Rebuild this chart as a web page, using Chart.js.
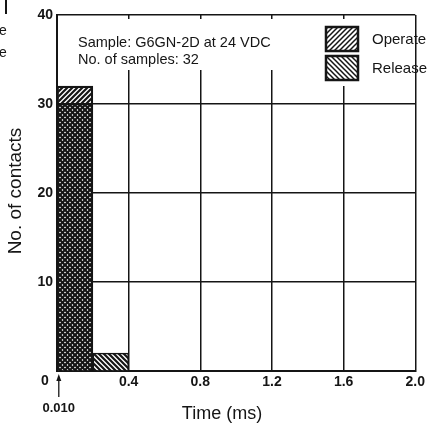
<!DOCTYPE html>
<html>
<head>
<meta charset="utf-8">
<script src="https://cdn.jsdelivr.net/npm/chart.js@4"></script>
<style>
  html, body { margin: 0; padding: 0; background: #fff; }
  #wrap { width: 428px; height: 429px; position: relative; }
</style>
</head>
<body>
<div id="wrap"><canvas id="chart" width="428" height="429"></canvas></div>
<script>
// histogram data (bins 0.2 ms wide)
const binCenters = [0.1, 0.3];
const operateCounts = [32, null];
const releaseCounts = [30, 2];
const xTicks = [0, 0.4, 0.8, 1.2, 1.6, 2.0];
const yTicks = [0, 10, 20, 30, 40];
const sampleLines = ['Sample: G6GN-2D at 24 VDC', 'No. of samples: 32'];
const legendLabels = ['Operate', 'Release'];
const firstBinStart = 0.010;

const INK = '#151515';
const tickFamily = '"Liberation Sans Narrow", "Liberation Sans", Arial, sans-serif';
const tickFont = 'bold 14px ' + tickFamily;
const textFont = '"Liberation Sans", Arial, sans-serif';

// hatch patterns: "/" for operate, "\" for release
function makeHatch(dir, fill, lw, s) {
    const c = document.createElement('canvas');
    c.width = s; c.height = s;
    const g = c.getContext('2d');
    if (fill) { g.fillStyle = fill; g.fillRect(0, 0, s, s); }
    g.strokeStyle = INK;
    g.lineWidth = lw;
    g.beginPath();
    if (dir === '/') {
        g.moveTo(-1, s + 1); g.lineTo(s + 1, -1);
        g.moveTo(-1, 1); g.lineTo(1, -1);
        g.moveTo(s - 1, s + 1); g.lineTo(s + 1, s - 1);
    } else {
        g.moveTo(-1, -1); g.lineTo(s + 1, s + 1);
        g.moveTo(-1, s - 1); g.lineTo(1, s + 1);
        g.moveTo(s - 1, -1); g.lineTo(s + 1, 1);
    }
    g.stroke();
    return document.getElementById('chart').getContext('2d').createPattern(c, 'repeat');
}

const operateFill = makeHatch('/', null, 2.2, 5);
const releaseFill = makeHatch('\\', '#ffffff', 2.2, 5);
const operateBox = makeHatch('/', '#ffffff', 1.5, 5);
const releaseBox = makeHatch('\\', '#ffffff', 1.5, 5);

// extra drawing: notes, legend, axis titles, the 0.010 marker
const extras = {
    id: 'extras',
    afterDraw(chart) {
        const ctx = chart.ctx;
        const xs = chart.scales.x, ys = chart.scales.y;
        const x0 = xs.getPixelForValue(0), y0 = ys.getPixelForValue(0);
        ctx.save();
        ctx.fillStyle = INK;
        ctx.strokeStyle = INK;

        // shared origin "0"
        ctx.font = tickFont;
        ctx.textAlign = 'center';
        ctx.textBaseline = 'middle';
        ctx.fillText('0', x0 - 12, y0 + 10);

        // 0.010 arrow
        const xm = xs.getPixelForValue(firstBinStart);
        ctx.lineWidth = 1.3;
        ctx.beginPath();
        ctx.moveTo(xm, y0 + 26);
        ctx.lineTo(xm, y0 + 6);
        ctx.stroke();
        ctx.beginPath();
        ctx.moveTo(xm, y0 + 3);
        ctx.lineTo(xm - 2.5, y0 + 10);
        ctx.lineTo(xm + 2.5, y0 + 10);
        ctx.closePath();
        ctx.fill();
        ctx.font = 'bold 13px ' + tickFamily;
        ctx.fillText('0.010', xm, y0 + 37);

        // axis titles
        ctx.font = '18px ' + textFont;
        ctx.fillText('Time (ms)', 222, 414);
        ctx.save();
        ctx.translate(16, 191);
        ctx.rotate(-Math.PI / 2);
        ctx.font = '19px ' + textFont;
        ctx.fillText('No. of contacts', 0, 0);
        ctx.restore();

        // sample note
        ctx.fillStyle = '#fff';
        ctx.fillRect(61, 19, 240, 51);
        ctx.fillStyle = INK;
        ctx.font = '14.5px ' + textFont;
        ctx.textAlign = 'left';
        sampleLines.forEach((t, i) => ctx.fillText(t, 78, 43 + i * 17));

        // legend
        ctx.fillStyle = '#fff';
        ctx.fillRect(318, 19, 94, 67);
        const boxes = [operateBox, releaseBox];
        legendLabels.forEach((t, i) => {
            const by = 27 + i * 29;
            ctx.fillStyle = boxes[i];
            ctx.fillRect(326, by, 32, 24);
            ctx.lineWidth = 2.5;
            ctx.strokeRect(326, by, 32, 24);
            ctx.fillStyle = INK;
            ctx.font = '15px ' + textFont;
            ctx.fillText(t, 372, by + 13);
        });

        // scraps of the neighbouring column
        ctx.font = '14px ' + textFont;
        ctx.fillText('e', -1, 31);
        ctx.fillText('e', -1, 53);
        ctx.fillRect(5, 0, 2, 14);
        ctx.restore();
    }
};

new Chart(document.getElementById('chart'), {
    type: 'bar',
    data: {
        datasets: [
            {
                label: legendLabels[0],
                data: binCenters.map((x, i) => ({ x: x, y: operateCounts[i] })),
                backgroundColor: operateFill,
                borderColor: INK,
                borderWidth: 1.5,
                order: 1
            },
            {
                label: legendLabels[1],
                data: binCenters.map((x, i) => ({ x: x, y: releaseCounts[i] })),
                backgroundColor: releaseFill,
                borderColor: INK,
                borderWidth: 1.5,
                order: 2
            }
        ]
    },
    options: {
        responsive: false,
        animation: false,
        devicePixelRatio: 1,
        layout: { padding: { left: 0, right: 12, top: 15, bottom: 0 } },
        datasets: { bar: { grouped: false, barPercentage: 1, categoryPercentage: 1 } },
        plugins: { legend: { display: false }, tooltip: { enabled: false } },
        scales: {
            x: {
                type: 'linear',
                min: 0, max: 2,
                offset: false,
                afterBuildTicks: s => { s.ticks = xTicks.map(v => ({ value: v })); },
                afterFit: s => { s.height = 58; },
                ticks: {
                    callback: v => v === 0 ? '' : v.toFixed(1),
                    font: { family: tickFamily, size: 14, weight: 'bold' },
                    color: INK, padding: 3, maxRotation: 0, autoSkip: false
                },
                grid: { color: INK, lineWidth: 1.5, drawTicks: false, offset: false },
                border: { color: INK, width: 2 }
            },
            y: {
                min: 0, max: 40,
                afterBuildTicks: s => { s.ticks = yTicks.map(v => ({ value: v })); },
                afterFit: s => { s.width = 57; },
                ticks: {
                    callback: v => v === 0 ? '' : String(v),
                    font: { family: tickFamily, size: 14, weight: 'bold' },
                    color: INK, padding: 4
                },
                grid: { color: INK, lineWidth: 1.5, drawTicks: false },
                border: { color: INK, width: 2 }
            }
        }
    },
    plugins: [extras]
});
</script>
</body>
</html>
